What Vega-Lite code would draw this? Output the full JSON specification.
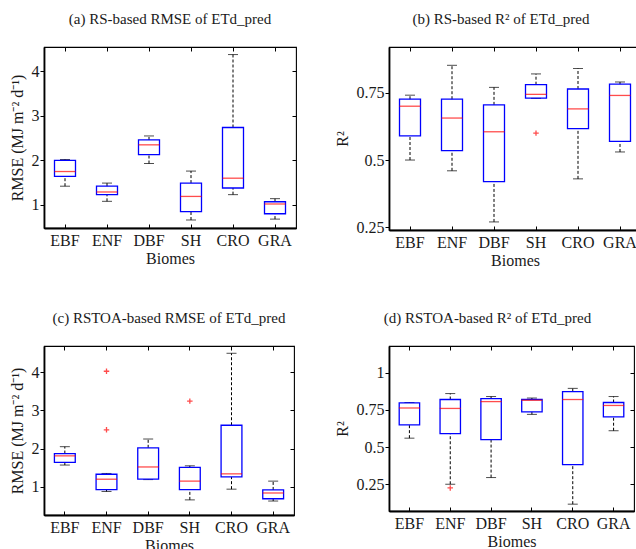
{
  "$schema": "https://vega.github.io/schema/vega-lite/v6.json",
  "background": "white",
  "padding": {"left": 8, "top": 10, "right": 0, "bottom": 0},
  "columns": 2,
  "spacing": {"row": 116, "column": 93},
  "bounds": "flush",
  "datasets": {
    "a": [
      {"biome": "EBF", "lo": 1.42, "q1": 1.64, "med": 1.75, "q3": 2.0, "hi": 2.02},
      {"biome": "ENF", "lo": 1.08, "q1": 1.23, "med": 1.29, "q3": 1.42, "hi": 1.49},
      {"biome": "DBF", "lo": 1.93, "q1": 2.13, "med": 2.35, "q3": 2.46, "hi": 2.55},
      {"biome": "SH", "lo": 0.66, "q1": 0.85, "med": 1.19, "q3": 1.49, "hi": 1.76},
      {"biome": "CRO", "lo": 1.23, "q1": 1.38, "med": 1.6, "q3": 2.74, "hi": 4.38},
      {"biome": "GRA", "lo": 0.68, "q1": 0.8, "med": 1.02, "q3": 1.07, "hi": 1.14}
    ],
    "b": [
      {"biome": "EBF", "lo": 0.5, "q1": 0.59, "med": 0.7, "q3": 0.726, "hi": 0.741},
      {"biome": "ENF", "lo": 0.46, "q1": 0.535, "med": 0.656, "q3": 0.726, "hi": 0.852},
      {"biome": "DBF", "lo": 0.27, "q1": 0.42, "med": 0.605, "q3": 0.705, "hi": 0.77},
      {"biome": "SH", "lo": 0.729, "q1": 0.73, "med": 0.744, "q3": 0.78, "hi": 0.82},
      {"biome": "CRO", "lo": 0.43, "q1": 0.617, "med": 0.69, "q3": 0.764, "hi": 0.84},
      {"biome": "GRA", "lo": 0.53, "q1": 0.569, "med": 0.74, "q3": 0.782, "hi": 0.79}
    ],
    "b_out": [
      {"biome": "SH", "value": 0.6}
    ],
    "c": [
      {"biome": "EBF", "lo": 1.57, "q1": 1.64, "med": 1.81, "q3": 1.87, "hi": 2.05},
      {"biome": "ENF", "lo": 0.88, "q1": 0.93, "med": 1.2, "q3": 1.33, "hi": 1.35},
      {"biome": "DBF", "lo": 1.19, "q1": 1.2, "med": 1.52, "q3": 2.02, "hi": 2.25},
      {"biome": "SH", "lo": 0.66, "q1": 0.93, "med": 1.15, "q3": 1.51, "hi": 1.55},
      {"biome": "CRO", "lo": 0.94, "q1": 1.26, "med": 1.34, "q3": 2.61, "hi": 4.49},
      {"biome": "GRA", "lo": 0.63, "q1": 0.69, "med": 0.84, "q3": 0.92, "hi": 1.15}
    ],
    "c_out": [
      {"biome": "ENF", "value": 4.02},
      {"biome": "ENF", "value": 2.49},
      {"biome": "SH", "value": 3.24}
    ],
    "d": [
      {"biome": "EBF", "lo": 0.56, "q1": 0.65, "med": 0.763, "q3": 0.797, "hi": 0.8},
      {"biome": "ENF", "lo": 0.25, "q1": 0.59, "med": 0.76, "q3": 0.82, "hi": 0.86},
      {"biome": "DBF", "lo": 0.295, "q1": 0.55, "med": 0.806, "q3": 0.826, "hi": 0.84},
      {"biome": "SH", "lo": 0.72, "q1": 0.737, "med": 0.815, "q3": 0.82, "hi": 0.83},
      {"biome": "CRO", "lo": 0.116, "q1": 0.382, "med": 0.82, "q3": 0.873, "hi": 0.895},
      {"biome": "GRA", "lo": 0.61, "q1": 0.703, "med": 0.78, "q3": 0.8, "hi": 0.84}
    ],
    "d_out": [
      {"biome": "ENF", "value": 0.225}
    ]
  },
  "concat": [
    {
      "title": {"text": "(a)  RS-based RMSE of ETd_pred"},
      "width": 252,
      "height": 181,
      "data": {"name": "a"},
      "resolve": {"axis": {"x": "independent", "y": "independent"}},
      "encoding": {
        "x": {"field": "biome", "type": "nominal", "sort": null, "axis": null,
              "scale": {"domain": ["EBF", "ENF", "DBF", "SH", "CRO", "GRA"], "paddingInner": 0, "paddingOuter": 0}}
      },
      "layer": [
        {
          "mark": {"type": "rule", "color": "black", "strokeDash": [3, 2], "strokeWidth": 1},
          "encoding": {
            "x": {"field": "biome", "type": "nominal", "sort": null, "axis": {"orient": "bottom", "title": "Biomes", "labelAngle": 0, "domain": true}},
            "y": {"field": "q3", "type": "quantitative", "scale": {"domain": [0.48, 4.55], "nice": false, "zero": false},
                  "axis": {"orient": "left", "title": "RMSE (MJ m⁻² d⁻¹)", "values": [1, 2, 3, 4], "domain": true, "tickSize": 4, "labelPadding": 1, "titlePadding": 6}},
            "y2": {"field": "hi"}
          }
        },
        {
          "mark": {"type": "rule", "color": "black", "strokeDash": [3, 2], "strokeWidth": 1},
          "encoding": {"y": {"field": "lo", "type": "quantitative", "axis": null}, "y2": {"field": "q1"}}
        },
        {
          "mark": {"type": "tick", "color": "black", "size": 10, "thickness": 1, "orient": "horizontal"},
          "encoding": {
            "x": {"field": "biome", "type": "nominal", "sort": null, "axis": {"orient": "top", "labels": false, "title": null}},
            "y": {"field": "hi", "type": "quantitative", "axis": {"orient": "right", "labels": false, "title": null, "values": [1, 2, 3, 4]}}
          }
        },
        {
          "mark": {"type": "tick", "color": "black", "size": 10, "thickness": 1, "orient": "horizontal"},
          "encoding": {"y": {"field": "lo", "type": "quantitative", "axis": null}}
        },
        {
          "mark": {"type": "bar", "fillOpacity": 0, "stroke": "#0000ff", "strokeWidth": 1.3, "width": {"band": 0.5}},
          "encoding": {"y": {"field": "q1", "type": "quantitative", "axis": null}, "y2": {"field": "q3"}}
        },
        {
          "mark": {"type": "tick", "color": "#ff0000", "size": 21, "thickness": 1.3, "orient": "horizontal"},
          "encoding": {"y": {"field": "med", "type": "quantitative", "axis": null}}
        }
      ]
    },
    {
      "title": {"text": "(b)  RS-based R² of ETd_pred", "dx": -14},
      "width": 252,
      "height": 183,
      "resolve": {"axis": {"x": "independent", "y": "independent"}},
      "encoding": {
        "x": {"field": "biome", "type": "nominal", "sort": null, "axis": null,
              "scale": {"domain": ["EBF", "ENF", "DBF", "SH", "CRO", "GRA"], "paddingInner": 0, "paddingOuter": 0}}
      },
      "layer": [
        {
          "data": {"name": "b"},
          "mark": {"type": "rule", "color": "black", "strokeDash": [3, 2], "strokeWidth": 1},
          "encoding": {
            "x": {"field": "biome", "type": "nominal", "sort": null, "axis": {"orient": "bottom", "title": "Biomes", "labelAngle": 0, "domain": true}},
            "y": {"field": "q3", "type": "quantitative", "scale": {"domain": [0.24, 0.92], "nice": false, "zero": false},
                  "axis": {"orient": "left", "title": "R²", "values": [0.25, 0.5, 0.75], "format": ".2~f", "domain": true, "tickSize": 4, "labelPadding": 1, "titlePadding": 6}},
            "y2": {"field": "hi"}
          }
        },
        {
          "data": {"name": "b"},
          "mark": {"type": "rule", "color": "black", "strokeDash": [3, 2], "strokeWidth": 1},
          "encoding": {"y": {"field": "lo", "type": "quantitative", "axis": null}, "y2": {"field": "q1"}}
        },
        {
          "data": {"name": "b"},
          "mark": {"type": "tick", "color": "black", "size": 10, "thickness": 1, "orient": "horizontal"},
          "encoding": {
            "x": {"field": "biome", "type": "nominal", "sort": null, "axis": {"orient": "top", "labels": false, "title": null}},
            "y": {"field": "hi", "type": "quantitative", "axis": {"orient": "right", "labels": false, "title": null, "values": [0.25, 0.5, 0.75]}}
          }
        },
        {
          "data": {"name": "b"},
          "mark": {"type": "tick", "color": "black", "size": 10, "thickness": 1, "orient": "horizontal"},
          "encoding": {"y": {"field": "lo", "type": "quantitative", "axis": null}}
        },
        {
          "data": {"name": "b"},
          "mark": {"type": "bar", "fillOpacity": 0, "stroke": "#0000ff", "strokeWidth": 1.3, "width": {"band": 0.5}},
          "encoding": {"y": {"field": "q1", "type": "quantitative", "axis": null}, "y2": {"field": "q3"}}
        },
        {
          "data": {"name": "b"},
          "mark": {"type": "tick", "color": "#ff0000", "size": 21, "thickness": 1.3, "orient": "horizontal"},
          "encoding": {"y": {"field": "med", "type": "quantitative", "axis": null}}
        },
        {
          "data": {"name": "b_out"},
          "mark": {"type": "point", "shape": "M-1,0L1,0M0,-1L0,1", "filled": false, "stroke": "#ff0000", "strokeWidth": 1.3, "size": 30},
          "encoding": {"y": {"field": "value", "type": "quantitative", "axis": null}}
        }
      ]
    },
    {
      "title": {"text": "(c)  RSTOA-based RMSE of ETd_pred"},
      "width": 250,
      "height": 169,
      "resolve": {"axis": {"x": "independent", "y": "independent"}},
      "encoding": {
        "x": {"field": "biome", "type": "nominal", "sort": null, "axis": null,
              "scale": {"domain": ["EBF", "ENF", "DBF", "SH", "CRO", "GRA"], "paddingInner": 0, "paddingOuter": 0}}
      },
      "layer": [
        {
          "data": {"name": "c"},
          "mark": {"type": "rule", "color": "black", "strokeDash": [3, 2], "strokeWidth": 1},
          "encoding": {
            "x": {"field": "biome", "type": "nominal", "sort": null, "axis": {"orient": "bottom", "title": "Biomes", "labelAngle": 0, "domain": true}},
            "y": {"field": "q3", "type": "quantitative", "scale": {"domain": [0.265, 4.68], "nice": false, "zero": false},
                  "axis": {"orient": "left", "title": "RMSE (MJ m⁻² d⁻¹)", "values": [1, 2, 3, 4], "domain": true, "tickSize": 4, "labelPadding": 1, "titlePadding": 6}},
            "y2": {"field": "hi"}
          }
        },
        {
          "data": {"name": "c"},
          "mark": {"type": "rule", "color": "black", "strokeDash": [3, 2], "strokeWidth": 1},
          "encoding": {"y": {"field": "lo", "type": "quantitative", "axis": null}, "y2": {"field": "q1"}}
        },
        {
          "data": {"name": "c"},
          "mark": {"type": "tick", "color": "black", "size": 10, "thickness": 1, "orient": "horizontal"},
          "encoding": {
            "x": {"field": "biome", "type": "nominal", "sort": null, "axis": {"orient": "top", "labels": false, "title": null}},
            "y": {"field": "hi", "type": "quantitative", "axis": {"orient": "right", "labels": false, "title": null, "values": [1, 2, 3, 4]}}
          }
        },
        {
          "data": {"name": "c"},
          "mark": {"type": "tick", "color": "black", "size": 10, "thickness": 1, "orient": "horizontal"},
          "encoding": {"y": {"field": "lo", "type": "quantitative", "axis": null}}
        },
        {
          "data": {"name": "c"},
          "mark": {"type": "bar", "fillOpacity": 0, "stroke": "#0000ff", "strokeWidth": 1.3, "width": {"band": 0.5}},
          "encoding": {"y": {"field": "q1", "type": "quantitative", "axis": null}, "y2": {"field": "q3"}}
        },
        {
          "data": {"name": "c"},
          "mark": {"type": "tick", "color": "#ff0000", "size": 21, "thickness": 1.3, "orient": "horizontal"},
          "encoding": {"y": {"field": "med", "type": "quantitative", "axis": null}}
        },
        {
          "data": {"name": "c_out"},
          "mark": {"type": "point", "shape": "M-1,0L1,0M0,-1L0,1", "filled": false, "stroke": "#ff0000", "strokeWidth": 1.3, "size": 30},
          "encoding": {"y": {"field": "value", "type": "quantitative", "axis": null}}
        }
      ]
    },
    {
      "title": {"text": "(d) RSTOA-based R² of ETd_pred", "dx": -24},
      "width": 245,
      "height": 165,
      "resolve": {"axis": {"x": "independent", "y": "independent"}},
      "encoding": {
        "x": {"field": "biome", "type": "nominal", "sort": null, "axis": null,
              "scale": {"domain": ["EBF", "ENF", "DBF", "SH", "CRO", "GRA"], "paddingInner": 0, "paddingOuter": 0}}
      },
      "layer": [
        {
          "data": {"name": "d"},
          "mark": {"type": "rule", "color": "black", "strokeDash": [3, 2], "strokeWidth": 1},
          "encoding": {
            "x": {"field": "biome", "type": "nominal", "sort": null, "axis": {"orient": "bottom", "title": "Biomes", "labelAngle": 0, "domain": true}},
            "y": {"field": "q3", "type": "quantitative", "scale": {"domain": [0.07, 1.18], "nice": false, "zero": false},
                  "axis": {"orient": "left", "title": "R²", "values": [0.25, 0.5, 0.75, 1], "format": ".2~f", "domain": true, "tickSize": 4, "labelPadding": 1, "titlePadding": 6}},
            "y2": {"field": "hi"}
          }
        },
        {
          "data": {"name": "d"},
          "mark": {"type": "rule", "color": "black", "strokeDash": [3, 2], "strokeWidth": 1},
          "encoding": {"y": {"field": "lo", "type": "quantitative", "axis": null}, "y2": {"field": "q1"}}
        },
        {
          "data": {"name": "d"},
          "mark": {"type": "tick", "color": "black", "size": 10, "thickness": 1, "orient": "horizontal"},
          "encoding": {
            "x": {"field": "biome", "type": "nominal", "sort": null, "axis": {"orient": "top", "labels": false, "title": null}},
            "y": {"field": "hi", "type": "quantitative", "axis": {"orient": "right", "labels": false, "title": null, "values": [0.25, 0.5, 0.75, 1]}}
          }
        },
        {
          "data": {"name": "d"},
          "mark": {"type": "tick", "color": "black", "size": 10, "thickness": 1, "orient": "horizontal"},
          "encoding": {"y": {"field": "lo", "type": "quantitative", "axis": null}}
        },
        {
          "data": {"name": "d"},
          "mark": {"type": "bar", "fillOpacity": 0, "stroke": "#0000ff", "strokeWidth": 1.3, "width": {"band": 0.5}},
          "encoding": {"y": {"field": "q1", "type": "quantitative", "axis": null}, "y2": {"field": "q3"}}
        },
        {
          "data": {"name": "d"},
          "mark": {"type": "tick", "color": "#ff0000", "size": 21, "thickness": 1.3, "orient": "horizontal"},
          "encoding": {"y": {"field": "med", "type": "quantitative", "axis": null}}
        },
        {
          "data": {"name": "d_out"},
          "mark": {"type": "point", "shape": "M-1,0L1,0M0,-1L0,1", "filled": false, "stroke": "#ff0000", "strokeWidth": 1.3, "size": 30},
          "encoding": {"y": {"field": "value", "type": "quantitative", "axis": null}}
        }
      ]
    }
  ],
  "config": {
    "font": "Liberation Serif",
    "view": {"stroke": "black", "strokeWidth": 1.1},
    "axis": {
      "domain": false,
      "domainColor": "black",
      "domainWidth": 1.8,
      "grid": false,
      "ticks": true,
      "tickSize": -4,
      "tickColor": "black",
      "tickWidth": 1,
      "labelFont": "Liberation Serif",
      "labelFontSize": 16,
      "labelColor": "#1a1a1a",
      "labelPadding": 8,
      "titleFont": "Liberation Serif",
      "titleFontSize": 16,
      "titleFontWeight": "normal",
      "titleColor": "#1a1a1a",
      "titlePadding": 5
    },
    "axisX": {"titlePadding": 2},
    "title": {
      "font": "Liberation Serif",
      "fontSize": 15,
      "fontWeight": "normal",
      "color": "#1a1a1a",
      "anchor": "middle",
      "frame": "group",
      "offset": 20
    }
  }
}
